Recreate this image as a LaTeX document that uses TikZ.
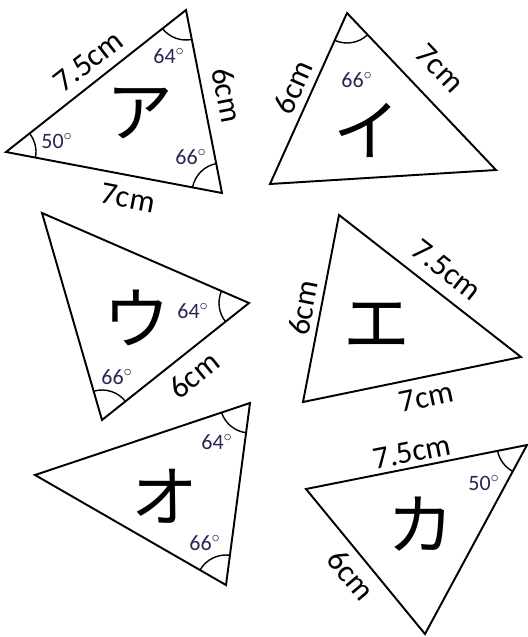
\documentclass[tikz,border=0pt]{standalone}
\usepackage{fontspec}
\setmainfont{Carlito}
\newfontfamily\cjk{Noto Sans CJK JP}
\usepackage{xcolor}
\usetikzlibrary{angles}
\definecolor{degcol}{RGB}{45,35,85}

\begin{document}
\begin{tikzpicture}[x=0.02cm, y=-0.02cm,
    tri/.style={draw, line width=1.1pt},
    angarc/.style={draw, line width=0.8pt, angle radius=0.6cm},
    side/.style={font=\fontsize{18}{18}\selectfont, inner sep=0pt},
    deg/.style={font=\fontsize{12.5}{12.5}\selectfont, text=degcol, inner sep=0pt},
    kana/.style={font=\cjk\fontsize{38}{38}\selectfont, inner sep=0pt}]

\useasboundingbox (0,0) rectangle (528,637);

% triangle A
\coordinate (a1) at (6,152);
\coordinate (a2) at (186,10);
\coordinate (a3) at (222,193);
\draw[tri] (a1) -- (a2) -- (a3) -- cycle;
\pic[angarc] {angle = a3--a1--a2};
\pic[angarc] {angle = a1--a2--a3};
\pic[angarc] {angle = a2--a3--a1};
\node[kana] (akana) at (140,113) {ア};
\node[side, rotate=38] (aside1) at (88,61) {7.5cm};
\node[side, rotate=-79] (aside2) at (227,95) {6cm};
\node[side, rotate=-11] (aside3) at (128,198) {7cm};
\node[deg] (adeg1) at (57,141) {50$^{\circ}$};
\node[deg] (adeg2) at (169,56) {64$^{\circ}$};
\node[deg] (adeg3) at (191,157) {66$^{\circ}$};

% triangle I
\coordinate (b1) at (347,13);
\coordinate (b2) at (270,184);
\coordinate (b3) at (496,170);
\draw[tri] (b1) -- (b2) -- (b3) -- cycle;
\pic[angarc] {angle = b2--b1--b3};
\node[kana] (bkana) at (367,130) {イ};
\node[side, rotate=66] (bside1) at (293,87) {6cm};
\node[side, rotate=-46.5] (bside2) at (440,68) {7cm};
\node[deg] (bdeg1) at (357,80) {66$^{\circ}$};

% triangle U
\coordinate (c1) at (42,213);
\coordinate (c2) at (249,303);
\coordinate (c3) at (102,420);
\draw[tri] (c1) -- (c2) -- (c3) -- cycle;
\pic[angarc] {angle = c1--c2--c3};
\pic[angarc] {angle = c2--c3--c1};
\node[kana] (ckana) at (137,318) {ウ};
\node[side, rotate=39] (cside1) at (194,375) {6cm};
\node[deg] (cdeg1) at (193,311) {64$^{\circ}$};
\node[deg] (cdeg2) at (117,377) {66$^{\circ}$};

% triangle E
\coordinate (d1) at (339,215);
\coordinate (d2) at (521,357);
\coordinate (d3) at (303,402);
\draw[tri] (d1) -- (d2) -- (d3) -- cycle;
\node[kana] (dkana) at (377,325) {エ};
\node[side, rotate=-38] (dside1) at (447,270) {7.5cm};
\node[side, rotate=79] (dside2) at (303,308) {6cm};
\node[side, rotate=12] (dside3) at (426,397) {7cm};

% triangle O
\coordinate (e1) at (250,403);
\coordinate (e2) at (35,475);
\coordinate (e3) at (226,585);
\draw[tri] (e1) -- (e2) -- (e3) -- cycle;
\pic[angarc] {angle = e2--e1--e3};
\pic[angarc] {angle = e1--e3--e2};
\node[kana] (ekana) at (165,496) {オ};
\node[deg] (edeg1) at (217,442) {64$^{\circ}$};
\node[deg] (edeg2) at (205,543) {66$^{\circ}$};

% triangle KA
\coordinate (f1) at (306,489);
\coordinate (f2) at (527,445);
\coordinate (f3) at (425,634);
\draw[tri] (f1) -- (f2) -- (f3) -- cycle;
\pic[angarc] {angle = f1--f2--f3};
\node[kana] (fkana) at (421,524) {カ};
\node[side, rotate=11] (fside1) at (412,452) {7.5cm};
\node[side, rotate=-50] (fside2) at (351,575) {6cm};
\node[deg] (fdeg1) at (484,483) {50$^{\circ}$};

\end{tikzpicture}
\end{document}
